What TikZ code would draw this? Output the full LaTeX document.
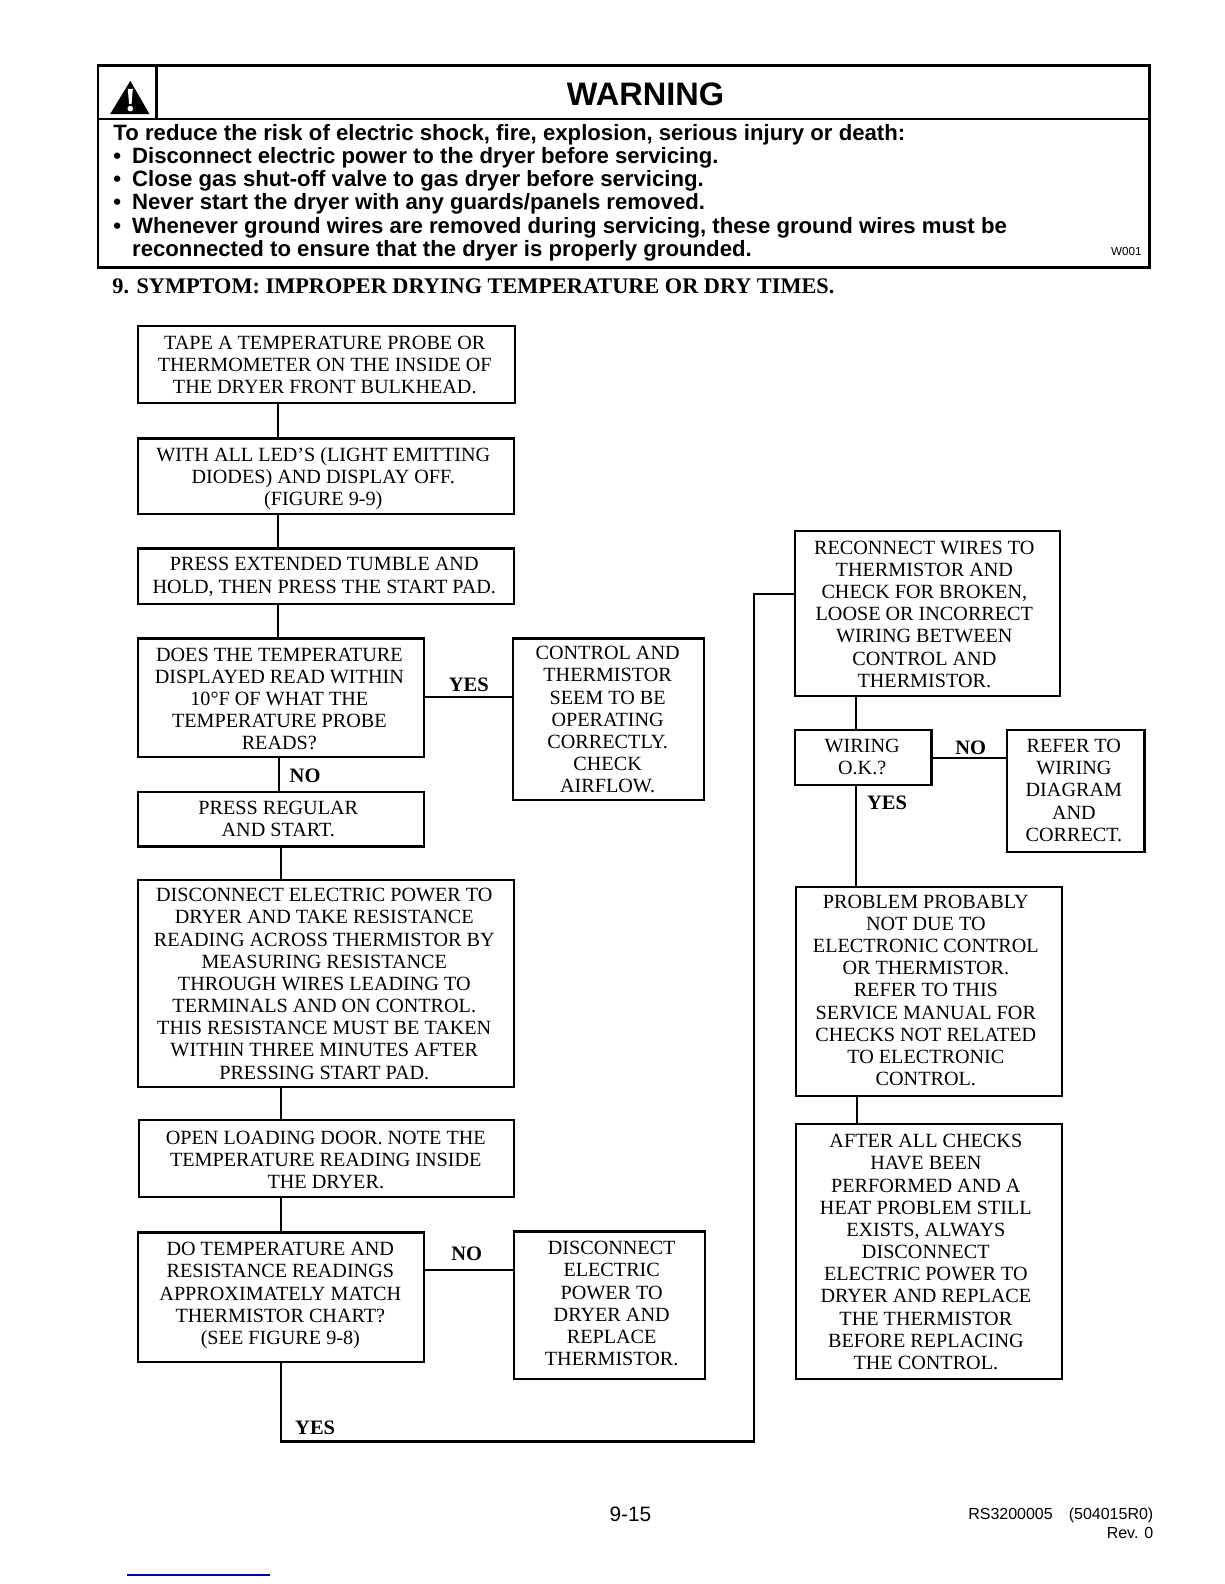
\documentclass[tikz,border=0pt]{standalone}
\usepackage{fontspec}
\setmainfont{Liberation Serif}
\newfontfamily\hv{Liberation Sans}
\tikzset{
  x=0.606pt,y=-0.606pt,
  flowbox/.style={draw=black,line width=1.3pt,inner sep=0pt,font=\fontsize{12.1}{13.3}\selectfont},
  link/.style={draw=black,line width=1.3pt},
  tag/.style={inner sep=0pt,font=\fontsize{12.3}{13.35}\selectfont\bfseries},
  frame/.style={draw=black,line width=1.5pt},
}
% name, x0, y0, x1, y1, text offset right (px), text offset down (px), text
\newcommand\bx[8]{%
  \pgfmathsetmacro\bxw{(#4-#2)*0.606}\pgfmathsetmacro\bxh{(#5-#3)*0.606}\pgfmathsetmacro\bxs{(#6)*0.606}\pgfmathsetmacro\bxv{(#7)*1.212}%
  \node[flowbox,minimum width=\bxw pt,minimum height=\bxh pt] (#1) at ({(#2+#4)/2},{(#3+#5)/2}) {\kern\bxs pt\begin{tabular}{@{}c@{}}\noalign{\vskip\bxv pt}#8\end{tabular}\kern-\bxs pt};}
\begin{document}
\begin{tikzpicture}
\useasboundingbox (0,0) rectangle (1212,1568);
% warning panel
\draw[frame] (97,65) rectangle (1138,265);
\draw[frame] (97,118) -- (1138,118);
\draw[frame] (155,65) -- (155,118);
\fill[black,line join=round] (129,80) -- (148,113) -- (109,113) -- cycle;
\fill[white] (126.5,88) -- (131.5,88) -- (130.2,103) -- (127.8,103) -- cycle;
\fill[white] (129,107.5) circle (2.8);
\node[inner sep=0pt,font=\hv\bfseries\fontsize{19.5}{20}\selectfont] (wt) at (639,93) {WARNING};
\node[anchor=north west,inner sep=0pt,align=left,font=\hv\bfseries\fontsize{13.3}{13.94}\selectfont] (wb) at (112,122.5) {%
To reduce the risk of electric shock, fire, explosion, serious injury or death:\\
\makebox[11.2pt][l]{•}Disconnect electric power to the dryer before servicing.\\
\makebox[11.2pt][l]{•}Close gas shut-off valve to gas dryer before servicing.\\
\makebox[11.2pt][l]{•}Never start the dryer with any guards/panels removed.\\
\makebox[11.2pt][l]{•}Whenever ground wires are removed during servicing, these ground wires must be\\
\hspace*{11.2pt}reconnected to ensure that the dryer is properly grounded.};
\node[inner sep=0pt,font=\hv\fontsize{7}{8}\selectfont] (wc) at (1115,249) {W001};
\node[anchor=west,inner sep=0pt,font=\fontsize{13.37}{15}\selectfont\bfseries] (ttl) at (111,283.5) {9. SYMPTOM: IMPROPER DRYING TEMPERATURE OR DRY TIMES.};
% boxes
\bx{a}{137}{323}{510}{399}{-2}{2.5}{TAPE A TEMPERATURE PROBE OR\\THERMOMETER ON THE INSIDE OF\\THE DRYER FRONT BULKHEAD.}
\bx{b}{137}{434}{509}{509}{-3}{3}{WITH ALL LED’S (LIGHT EMITTING\\DIODES) AND DISPLAY OFF.\\(FIGURE 9-9)}
\bx{c}{137}{543}{509}{598}{-2}{1.2}{PRESS EXTENDED TUMBLE AND\\HOLD, THEN PRESS THE START PAD.}
\bx{d}{137}{632}{420}{749}{-2}{3.5}{DOES THE TEMPERATURE\\DISPLAYED READ WITHIN\\10°F OF WHAT THE\\TEMPERATURE PROBE\\READS?}
\bx{e}{137}{784}{420}{838}{-3}{2}{PRESS REGULAR\\AND START.}
\bx{f}{137}{871}{509}{1076}{-2}{2.5}{DISCONNECT ELECTRIC POWER TO\\DRYER AND TAKE RESISTANCE\\READING ACROSS THERMISTOR BY\\MEASURING RESISTANCE\\THROUGH WIRES LEADING TO\\TERMINALS AND ON CONTROL.\\THIS RESISTANCE MUST BE TAKEN\\WITHIN THREE MINUTES AFTER\\PRESSING START PAD.}
\bx{g}{138}{1109}{509}{1185}{-1}{3}{OPEN LOADING DOOR. NOTE THE\\TEMPERATURE READING INSIDE\\THE DRYER.}
\bx{h}{137}{1220}{420}{1348}{-1}{-1.5}{DO TEMPERATURE AND\\RESISTANCE READINGS\\APPROXIMATELY MATCH\\THERMISTOR CHART?\\(SEE FIGURE 9-8)}
\bx{ok}{508}{632}{697}{792}{-1}{2.5}{CONTROL AND\\THERMISTOR\\SEEM TO BE\\OPERATING\\CORRECTLY.\\CHECK\\AIRFLOW.}
\bx{rep}{509}{1219}{698}{1365}{2}{0.5}{DISCONNECT\\ELECTRIC\\POWER TO\\DRYER AND\\REPLACE\\THERMISTOR.}
\bx{rec}{787}{526}{1049}{689}{-3}{2.5}{RECONNECT WIRES TO\\THERMISTOR AND\\CHECK FOR BROKEN,\\LOOSE OR INCORRECT\\WIRING BETWEEN\\CONTROL AND\\THERMISTOR.}
\bx{wir}{787}{723}{922}{777}{-1}{1.5}{WIRING\\O.K.?}
\bx{ref}{997}{723}{1133}{843}{-2}{1.5}{REFER TO\\WIRING\\DIAGRAM\\AND\\CORRECT.}
\bx{pro}{788}{878}{1051}{1085}{-3}{1}{PROBLEM PROBABLY\\NOT DUE TO\\ELECTRONIC CONTROL\\OR THERMISTOR.\\REFER TO THIS\\SERVICE MANUAL FOR\\CHECKS NOT RELATED\\TO ELECTRONIC\\CONTROL.}
\bx{aft}{788}{1113}{1051}{1365}{-3}{2.5}{AFTER ALL CHECKS\\HAVE BEEN\\PERFORMED AND A\\HEAT PROBLEM STILL\\EXISTS, ALWAYS\\DISCONNECT\\ELECTRIC POWER TO\\DRYER AND REPLACE\\THE THERMISTOR\\BEFORE REPLACING\\THE CONTROL.}
% connectors
\draw[link] (a.south -| 275,0) -- (b.north -| 275,0);
\draw[link] (b.south -| 275,0) -- (c.north -| 275,0);
\draw[link] (c.south -| 275,0) -- (d.north -| 275,0);
\draw[link] (d.south -| 276,0) -- (e.north -| 276,0);
\draw[link] (e.south -| 278,0) -- (f.north -| 278,0);
\draw[link] (f.south -| 278,0) -- (g.north -| 278,0);
\draw[link] (g.south -| 278,0) -- (h.north -| 278,0);
\draw[link] (d.east |- 0,690) -- (ok.west |- 0,690);
\draw[link] (h.east |- 0,1257) -- (rep.west |- 0,1257);
\draw[link] (h.south -| 278,0) -- (278,1427) -- (746,1427) -- (746,588) -- (rec.west |- 0,588);
\draw[link] (rec.south -| 847,0) -- (wir.north -| 847,0);
\draw[link] (wir.east |- 0,750) -- (ref.west |- 0,750);
\draw[link] (wir.south -| 847,0) -- (pro.north -| 847,0);
\draw[link] (pro.south -| 848,0) -- (aft.north -| 848,0);
% labels
\node[tag] (l1) at (464,678) {YES};
\node[tag] (l2) at (302,768) {NO};
\node[tag] (l3) at (961,740) {NO};
\node[tag] (l4) at (878,795) {YES};
\node[tag] (l5) at (462,1241) {NO};
\node[tag] (l6) at (312,1413) {YES};
% footer
\node[inner sep=0pt,font=\hv\fontsize{12.5}{14}\selectfont] (pg) at (624,1499) {9-15};
\node[anchor=east,inner sep=0pt,font=\hv\fontsize{9.6}{10}\selectfont] (rs) at (1142,1500) {RS3200005\hspace{1em}(504015R0)};
\node[anchor=east,inner sep=0pt,font=\hv\fontsize{9.6}{10}\selectfont] (rv) at (1142,1517) {Rev. 0};
\draw[blue!70!black,line width=0.8pt] (126,1559) -- (267,1559);
\end{tikzpicture}
\end{document}
